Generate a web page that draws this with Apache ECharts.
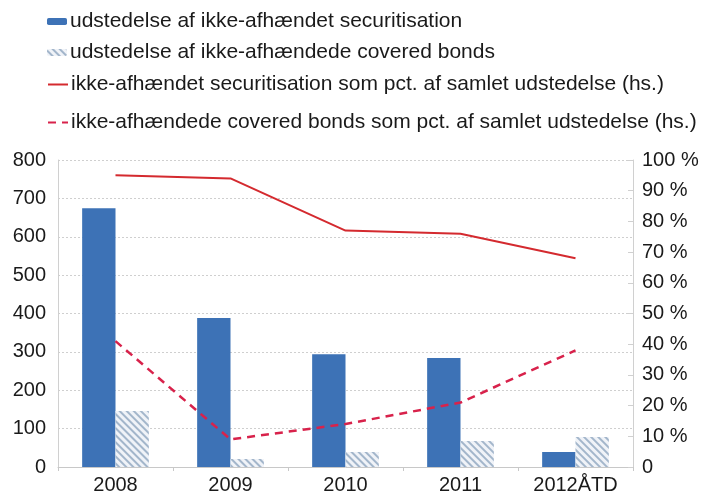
<!DOCTYPE html>
<html>
<head>
<meta charset="utf-8">
<script src="https://cdn.jsdelivr.net/npm/echarts@6/dist/echarts.min.js"></script>
<style>
  html, body { margin: 0; padding: 0; background: #fff; }
  #chart { width: 702px; height: 495px; }
</style>
</head>
<body>
<div id="chart"></div>
<script>
const categories = ['2008', '2009', '2010', '2011', '2012ÅTD']
const securitisation = [674, 388, 294, 284, 39]
const coveredBonds = [146, 21, 39, 68, 78]
const securitisationPct = [95, 94, 77, 76, 68]
const coveredBondsPct = [41, 9, 14, 21, 38]

const names = [
  'udstedelse af ikke-afhændet securitisation',
  'udstedelse af ikke-afhændede covered bonds',
  'ikke-afhændet securitisation som pct. af samlet udstedelse (hs.)',
  'ikke-afhændede covered bonds som pct. af samlet udstedelse (hs.)'
]

const font = 'Liberation Sans, Arial, sans-serif'
const legendTops = [11, 42, 74, 112]

const chart = echarts.init(document.getElementById('chart'))

chart.setOption({
  backgroundColor: '#fff',
  animation: false,
  legend: names.map((n, i) => ({
    data: [i < 2 ? n : { name: n, itemStyle: { opacity: 0 } }],
    left: 47,
    top: legendTops[i],
    padding: 0,
    itemWidth: 20,
    itemHeight: i < 2 ? 7 : 14,
    itemGap: 4,
    textStyle: { fontSize: 21, color: '#1a1a1a', fontFamily: font, padding: [0, 0, 0, -2] }
  })),
  grid: { left: 58, right: 69, top: 160, bottom: 28 },
  xAxis: {
    type: 'category',
    data: categories,
    axisLine: { lineStyle: { color: '#c8c8c8' } },
    axisTick: { show: true, length: 4, lineStyle: { color: '#c8c8c8' } },
    axisLabel: { fontSize: 20, color: '#1a1a1a', fontFamily: font, margin: 8 }
  },
  yAxis: [
    {
      type: 'value',
      min: 0,
      max: 800,
      interval: 100,
      axisLine: { show: true, lineStyle: { color: '#d0d0d0' } },
      axisTick: { show: false },
      axisLabel: { fontSize: 20, color: '#1a1a1a', fontFamily: font, margin: 12 },
      splitLine: { lineStyle: { color: '#cfcfcf', type: [2, 2] } }
    },
    {
      type: 'value',
      min: 0,
      max: 100,
      interval: 10,
      position: 'right',
      axisLine: { show: true, lineStyle: { color: '#d0d0d0' } },
      axisTick: { show: true, length: 5, inside: true, lineStyle: { color: '#d0d0d0' } },
      axisLabel: {
        fontSize: 20, color: '#1a1a1a', fontFamily: font, margin: 9,
        formatter: v => v === 0 ? '0' : v + ' %'
      },
      splitLine: { show: false }
    }
  ],
  series: [
    {
      name: names[0],
      type: 'bar',
      data: securitisation,
      barGap: '0%',
      barCategoryGap: '42%',
      itemStyle: { color: '#3d72b6' }
    },
    {
      name: names[1],
      type: 'bar',
      data: coveredBonds,
      itemStyle: {
        color: '#f0f3f8',
        decal: {
          symbol: 'rect',
          symbolSize: 1,
          color: '#a3b6cb',
          dashArrayX: [1, 0],
          dashArrayY: [1.5, 2.5],
          rotation: Math.PI / 4
        }
      }
    },
    {
      name: names[2],
      type: 'line',
      yAxisIndex: 1,
      data: securitisationPct,
      symbol: 'none',
      lineStyle: { color: '#d42a2f', width: 2 },
      itemStyle: { color: '#d42a2f' }
    },
    {
      name: names[3],
      type: 'line',
      yAxisIndex: 1,
      data: coveredBondsPct,
      symbol: 'none',
      lineStyle: { color: '#d8224b', width: 2.5, type: [8, 6] },
      itemStyle: { color: '#d8224b' }
    }
  ]
})
</script>
</body>
</html>
